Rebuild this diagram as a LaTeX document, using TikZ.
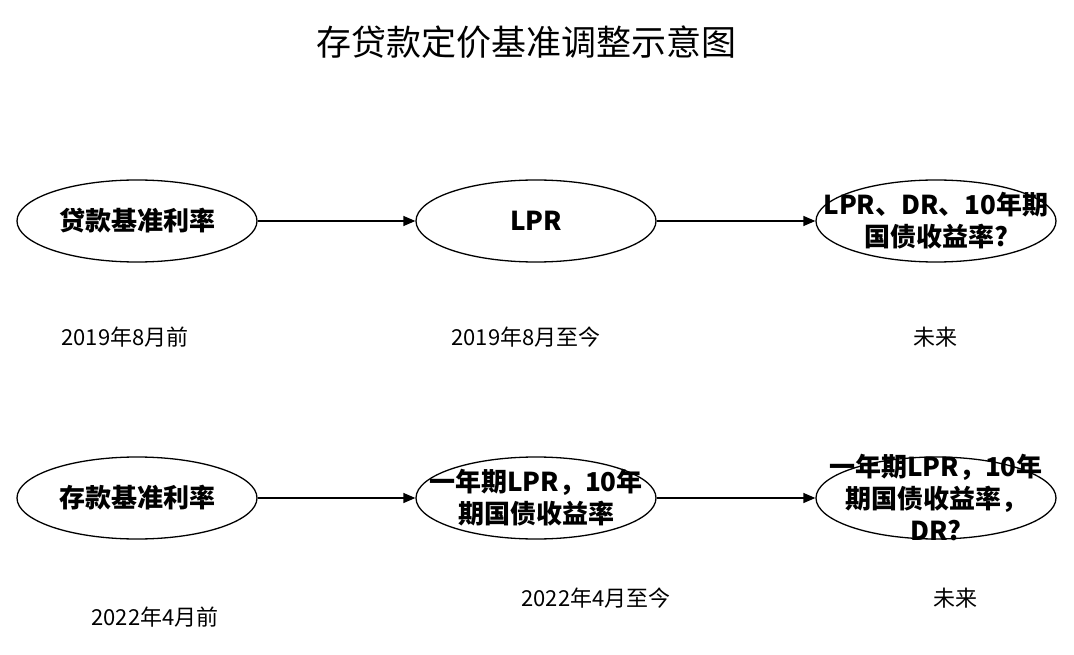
\documentclass[tikz,border=0pt]{standalone}
\usepackage{fontspec}
\setmainfont{Noto Sans CJK SC}
\usetikzlibrary{shapes.geometric,arrows.meta}
\begin{document}
\begin{tikzpicture}[x=1pt,y=-1pt,
  el/.style={ellipse,draw,line width=1.3pt,minimum width=240pt,minimum height=82pt,inner sep=0pt},
  tx/.style={align=center,font=\fontsize{26}{32}\selectfont\bfseries},
  lab/.style={font=\fontsize{22}{26}\selectfont},
  ar/.style={-{Triangle[length=12pt,width=10pt]},line width=1.3pt}]
\useasboundingbox (0,0) rectangle (1074,655);
\node[font=\fontsize{35}{40}\selectfont] (t) at (526,42) {存贷款定价基准调整示意图};
\node[el,label={[tx]center:贷款基准利率}] (a1) at (137,221) {};
\node[el,label={[tx]center:LPR}] (a2) at (536,221) {};
\node[el,label={[tx]center:LPR、DR、10年期\\国债收益率?}] (a3) at (936,221) {};
\node[el,label={[tx]center:存款基准利率}] (b1) at (137,498) {};
\node[el,label={[tx]center:一年期LPR，10年\\期国债收益率}] (b2) at (536,498) {};
\node[el,label={[tx]center:一年期LPR，10年\\期国债收益率，\\DR?}] (b3) at (936,498) {};
\draw[ar] (a1) -- (a2);
\draw[ar] (a2) -- (a3);
\draw[ar] (b1) -- (b2);
\draw[ar] (b2) -- (b3);
\node[lab] (l1) at (125,337) {2019年8月前};
\node[lab] (l2) at (526,337) {2019年8月至今};
\node[lab] (l3) at (935,337) {未来};
\node[lab] (m1) at (155,617) {2022年4月前};
\node[lab] (m2) at (596,598) {2022年4月至今};
\node[lab] (m3) at (955,598) {未来};
\end{tikzpicture}
\end{document}
